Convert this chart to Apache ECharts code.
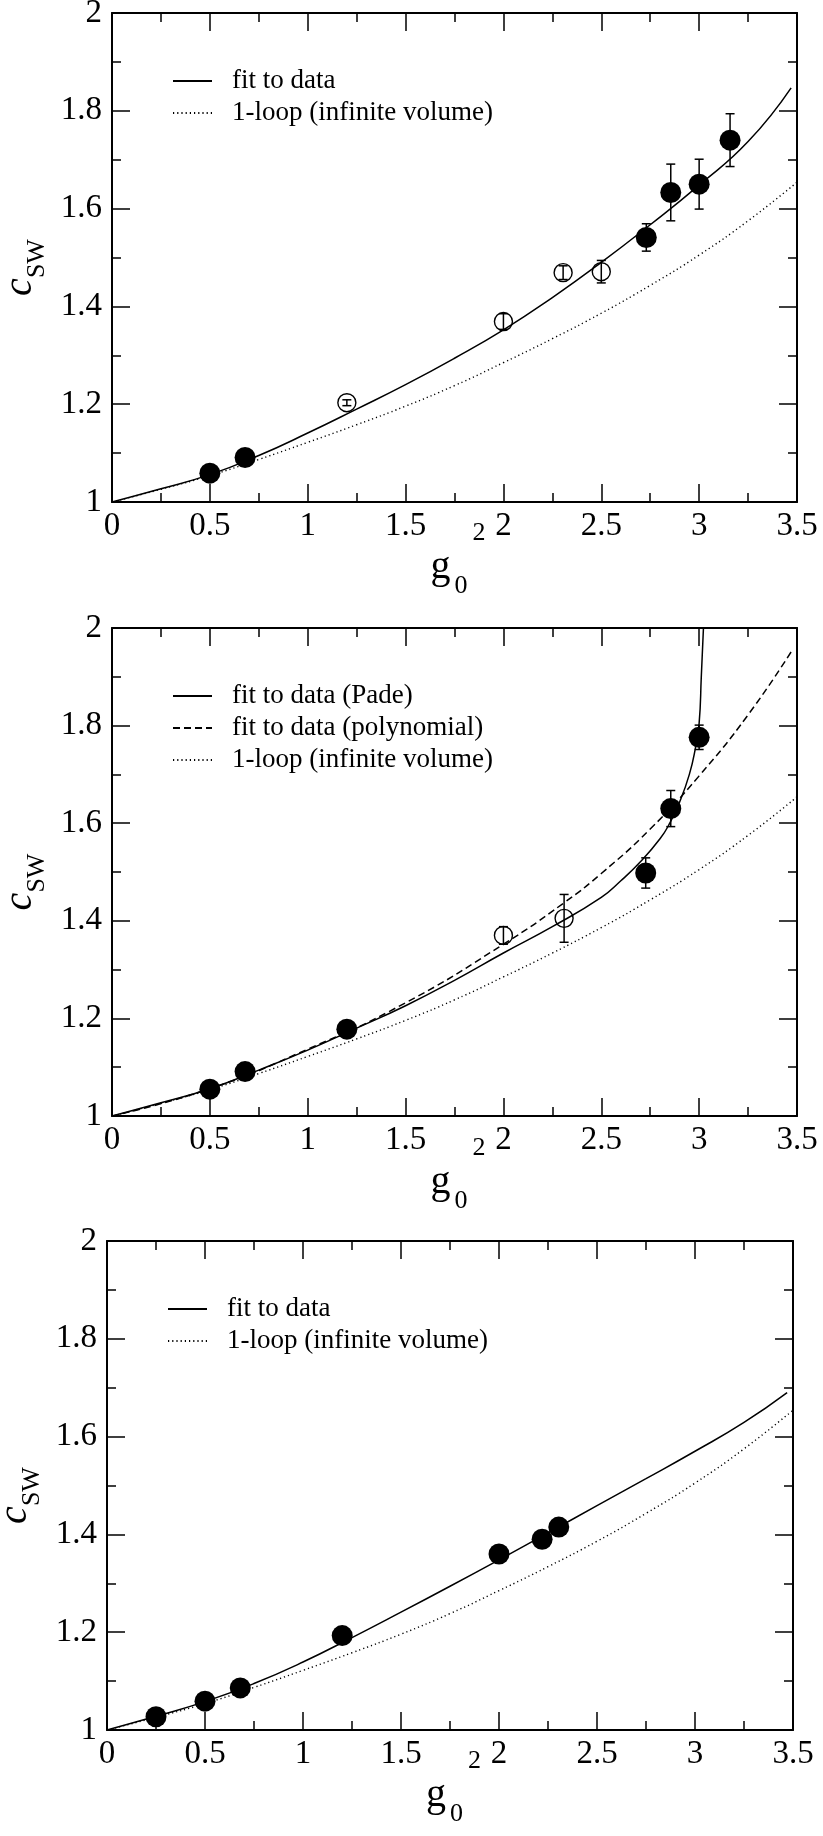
<!doctype html>
<html>
<head>
<meta charset="utf-8">
<script src="https://cdn.jsdelivr.net/npm/echarts@6/dist/echarts.min.js"></script>
<style>
html, body { margin: 0; padding: 0; background: #fff; }
#main { width: 823px; height: 1836px; }
</style>
</head>
<body>
<div id="main"></div>
<script>
// ---- values ----
// 1-loop (infinite volume), same curve in all three panels
var loopCurve = [[0,1.000],[0.25,1.026],[0.5,1.054],[0.75,1.087],[1.0,1.122],[1.25,1.158],[1.5,1.196],[1.75,1.238],[2.0,1.285],[2.25,1.334],[2.5,1.386],[2.75,1.443],[3.0,1.505],[3.25,1.575],[3.5,1.654]];

// panel 1
var fitA = [[0,1.0],[0.25,1.027],[0.5,1.056],[0.75,1.095],[1.0,1.141],[1.25,1.190],[1.5,1.240],[1.75,1.294],[2.0,1.352],[2.25,1.418],[2.5,1.490],[2.75,1.567],[3.0,1.648],[3.25,1.737],[3.47,1.847]];
var filledA = [[0.5,1.059],[0.68,1.091],[2.73,1.541],[2.855,1.633],[3.0,1.650],[3.158,1.740]];
var filledAErr = [0, 0, 0.028, 0.058, 0.051, 0.054];
var openA = [[1.2,1.203],[2.0,1.369],[2.305,1.469],[2.5,1.471]];
var openAErr = [0.006, 0.016, 0.014, 0.023];

// panel 2
var padeB = [[0,1.0],[0.25,1.027],[0.5,1.056],[0.75,1.094],[1.0,1.135],[1.25,1.180],[1.5,1.226],[1.75,1.278],[2.0,1.334],[2.25,1.388],[2.5,1.448],[2.6,1.482],[2.7,1.521],[2.8,1.568],[2.85,1.600],[2.9,1.643],[2.95,1.700],[2.98,1.752],[3.0,1.805],[3.011,1.9],[3.022,2.0]];
var polyB = [[0,1.0],[0.5,1.056],[1.0,1.137],[1.5,1.232],[2.0,1.352],[2.31,1.437],[2.5,1.497],[2.75,1.588],[3.0,1.697],[3.25,1.822],[3.47,1.951]];
var filledB = [[0.5,1.055],[0.68,1.091],[1.2,1.178],[2.727,1.498],[2.855,1.630],[3.0,1.776]];
var filledBErr = [0, 0, 0, 0.031, 0.037, 0.025];
var openB = [[2.0,1.370],[2.31,1.405]];
var openBErr = [0.018, 0.049];

// panel 3
var fitC = [[0,1.0],[0.25,1.028],[0.5,1.058],[0.75,1.095],[1.0,1.139],[1.25,1.189],[1.5,1.241],[1.75,1.294],[2.0,1.348],[2.25,1.403],[2.5,1.459],[2.75,1.514],[3.0,1.570],[3.25,1.629],[3.47,1.690]];
var filledC = [[0.25,1.027],[0.5,1.059],[0.68,1.086],[1.2,1.193],[2.0,1.360],[2.22,1.390],[2.305,1.415]];

var xRange = [0, 3.5, 0.5];
var yRange = [1, 2, 0.2];

var legendA = ['fit to data', '1-loop (infinite volume)'];
var legendB = ['fit to data (Pade)', 'fit to data (polynomial)', '1-loop (infinite volume)'];

// ---- layout ----
var FONT = '"Liberation Serif", "Times New Roman", serif';
var panels = [
	{ left: 112, top: 13, width: 685, height: 489 },
	{ left: 112, top: 628, width: 685, height: 488 },
	{ left: 107, top: 1241, width: 686, height: 489 }
];

function withErr(pts, err) {
	var out = [];
	for (var i = 0; i < pts.length; i++) {
		if (err[i] > 0) out.push([pts[i][0], pts[i][1], err[i]]);
	}
	return out;
}

function axisBase(show) {
	return {
		type: 'value',
		axisLine: { show: true, onZero: false, lineStyle: { color: '#000', width: 2 } },
		axisTick: { show: true, inside: true, length: 18, lineStyle: { color: '#000', width: 1.5 } },
		minorTick: { show: true, splitNumber: 2, length: 9, lineStyle: { color: '#000', width: 1.5 } },
		axisLabel: { show: show, color: '#000', fontFamily: FONT, fontSize: 33 },
		splitLine: { show: false },
		minorSplitLine: { show: false }
	};
}

var grids = [], xAxes = [], yAxes = [], series = [], legends = [], graphics = [];

panels.forEach(function (p, i) {
	grids.push({ left: p.left, top: p.top, width: p.width, height: p.height, containLabel: false, outerBoundsMode: 'none' });

	var xb = axisBase(true);
	xb.gridIndex = i; xb.position = 'bottom';
	xb.min = xRange[0]; xb.max = xRange[1]; xb.interval = xRange[2];
	xb.axisLabel.margin = 8;
	var xt = axisBase(false);
	xt.gridIndex = i; xt.position = 'top';
	xt.min = xRange[0]; xt.max = xRange[1]; xt.interval = xRange[2];
	xAxes.push(xb, xt);

	// left axis carries the c_SW title
	var yl = axisBase(true);
	yl.gridIndex = i; yl.position = 'left';
	yl.min = yRange[0]; yl.max = yRange[1]; yl.interval = yRange[2];
	yl.axisLabel.margin = 10;
	yl.name = '{c|c}{s|SW}';
	yl.nameLocation = 'middle';
	yl.nameRotate = 90;
	yl.nameGap = i === 2 ? 60 : 63;
	yl.nameTextStyle = {
		rich: {
			c: { fontFamily: FONT, fontStyle: 'italic', fontSize: 40, lineHeight: 40, color: '#000', verticalAlign: 'middle' },
			s: { fontFamily: FONT, fontSize: 26, lineHeight: 26, color: '#000', verticalAlign: 'middle', padding: [33, 20, 0, 0] }
		}
	};
	var yr = axisBase(false);
	yr.gridIndex = i; yr.position = 'right';
	yr.min = yRange[0]; yr.max = yRange[1]; yr.interval = yRange[2];
	yAxes.push(yl, yr);

	// x title: g_0^2
	var cx = p.left + p.width / 2;
	graphics.push({ type: 'text', x: cx - 24, y: p.top + 574, style: { text: 'g', font: '40px ' + FONT, fill: '#000', align: 'left', verticalAlign: 'bottom' } });
	graphics.push({ type: 'text', x: cx + 0, y: p.top + 586, style: { text: '0', font: '26px ' + FONT, fill: '#000', align: 'left', verticalAlign: 'bottom' } });
	graphics.push({ type: 'text', x: cx + 18, y: p.top + 533, style: { text: '2', font: '26px ' + FONT, fill: '#000', align: 'left', verticalAlign: 'bottom' } });
});

function curve(name, data, gi, type) {
	var dash = type === 'dotted' ? [1.2, 3] : (type === 'dashed' ? [7, 4] : 'solid');
	return {
		name: name, type: 'line', data: data, xAxisIndex: gi * 2, yAxisIndex: gi * 2,
		symbol: 'none', smooth: 0.5, silent: true, animation: false, z: 2,
		itemStyle: { color: '#000', opacity: 0 },
		lineStyle: { color: '#000', width: type === 'dotted' ? 1.4 : 1.5, type: dash }
	};
}

function errBars(data, gi) {
	return {
		type: 'custom', xAxisIndex: gi * 2, yAxisIndex: gi * 2, data: data, z: 4, silent: true, animation: false,
		renderItem: function (params, api) {
			var x = api.value(0), y = api.value(1), e = api.value(2);
			var a = api.coord([x, y + e]);
			var b = api.coord([x, y - e]);
			var hw = 4.5, st = { stroke: '#000', lineWidth: 1.5 };
			return {
				type: 'group', children: [
					{ type: 'line', shape: { x1: a[0], y1: a[1], x2: b[0], y2: b[1] }, style: st },
					{ type: 'line', shape: { x1: a[0] - hw, y1: a[1], x2: a[0] + hw, y2: a[1] }, style: st },
					{ type: 'line', shape: { x1: b[0] - hw, y1: b[1], x2: b[0] + hw, y2: b[1] }, style: st }
				]
			};
		}
	};
}

function dots(data, gi, open) {
	return {
		type: 'scatter', data: data, xAxisIndex: gi * 2, yAxisIndex: gi * 2,
		symbol: 'circle', symbolSize: open ? 18 : 21, silent: true, animation: false, z: 3,
		itemStyle: open ? { color: 'rgba(0,0,0,0)', borderColor: '#000', borderWidth: 1.4, opacity: 1 } : { color: '#000', opacity: 1 }
	};
}

// panel 1
series.push(curve(legendA[0], fitA, 0, 'solid'));
series.push(curve(legendA[1], loopCurve, 0, 'dotted'));
series.push(dots(filledA, 0, false));
series.push(dots(openA, 0, true));
series.push(errBars(withErr(filledA, filledAErr), 0));
series.push(errBars(withErr(openA, openAErr), 0));
// panel 2
series.push(curve(legendB[0], padeB, 1, 'solid'));
series.push(curve(legendB[1], polyB, 1, 'dashed'));
series.push(curve(legendB[2], loopCurve, 1, 'dotted'));
series.push(dots(filledB, 1, false));
series.push(dots(openB, 1, true));
series.push(errBars(withErr(filledB, filledBErr), 1));
series.push(errBars(withErr(openB, openBErr), 1));
// panel 3
series.push(curve(legendA[0], fitC, 2, 'solid'));
series.push(curve(legendA[1], loopCurve, 2, 'dotted'));
series.push(dots(filledC, 2, false));

[legendA, legendB, legendA].forEach(function (names, i) {
	var p = panels[i];
	legends.push({
		data: names, orient: 'vertical', left: p.left + 60, top: p.top + 53,
		padding: 0, itemWidth: 39, itemHeight: 14, itemGap: 2, selectedMode: false,
		itemStyle: { opacity: 0 },
		textStyle: { fontFamily: FONT, fontSize: 27, color: '#000', lineHeight: 30, padding: [0, 0, 0, 15] }
	});
});

var chart = echarts.init(document.getElementById('main'), null, { renderer: 'canvas' });
chart.setOption({
	backgroundColor: '#fff',
	animation: false,
	grid: grids,
	xAxis: xAxes,
	yAxis: yAxes,
	legend: legends,
	graphic: graphics,
	series: series
});
</script>
</body>
</html>
